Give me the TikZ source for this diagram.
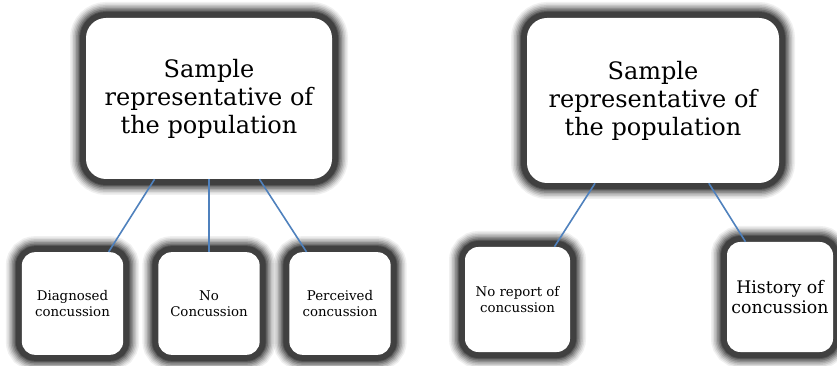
\documentclass[tikz,border=0pt]{standalone}
\usepackage{fontspec}
\setmainfont{DejaVu Serif}
\definecolor{linkblue}{HTML}{4F81BD}
\begin{document}
\begin{tikzpicture}[x=0.75pt,y=-0.75pt,
  glow/.style={fill=white, rounded corners=#1,
    preaction={draw=black, opacity=0.06, line width=24pt},
    preaction={draw=black, opacity=0.08, line width=21.75pt},
    preaction={draw=black, opacity=0.1, line width=19.5pt},
    preaction={draw=black, opacity=0.13, line width=17.25pt},
    preaction={draw=black, opacity=0.16, line width=15pt},
    preaction={draw=black, opacity=0.2, line width=12.75pt},
    preaction={draw=black, opacity=0.25, line width=10.5pt},
    preaction={draw=black!75, line width=9pt}},
  bigbox/.style={glow=15pt, align=center, font=\fontsize{18}{21}\selectfont},
  smallbox/.style={glow=10pt, minimum width=76pt, minimum height=77pt,
    align=center, font=\fontsize{10}{12}\selectfont},
  link/.style={draw=linkblue, line width=1.2pt}]
\useasboundingbox (0,0) rectangle (837,366);
% left tree
\node[bigbox, minimum width=184.5pt, minimum height=120.75pt] (samp1) at (209,98.5) {Sample\\representative of\\the population};
\node[smallbox] (diag) at (72.5,303.5) {Diagnosed\\concussion};
\node[smallbox] (nocon) at (209,303.5) {No\\Concussion};
\node[smallbox] (perc) at (340,303.5) {Perceived\\concussion};
\draw[link] (samp1.236) -- (diag.55);
\draw[link] (samp1.south) -- (nocon.north);
\draw[link] (samp1.302) -- (perc.123);
% right tree
\node[bigbox, minimum width=189pt, minimum height=123.75pt] (samp2) at (653,100.5) {Sample\\representative of\\the population};
\node[smallbox, minimum width=78.75pt, minimum height=78.75pt] (norep) at (517.5,299.5) {No report of\\concussion};
\node[smallbox, minimum width=79.5pt, minimum height=82.5pt, font=\fontsize{13}{15}\selectfont] (hist) at (780,297) {History of\\concussion};
\draw[link] (samp2.235) -- (norep.55);
\draw[link] (samp2.304) -- (hist.122);
\end{tikzpicture}
\end{document}
